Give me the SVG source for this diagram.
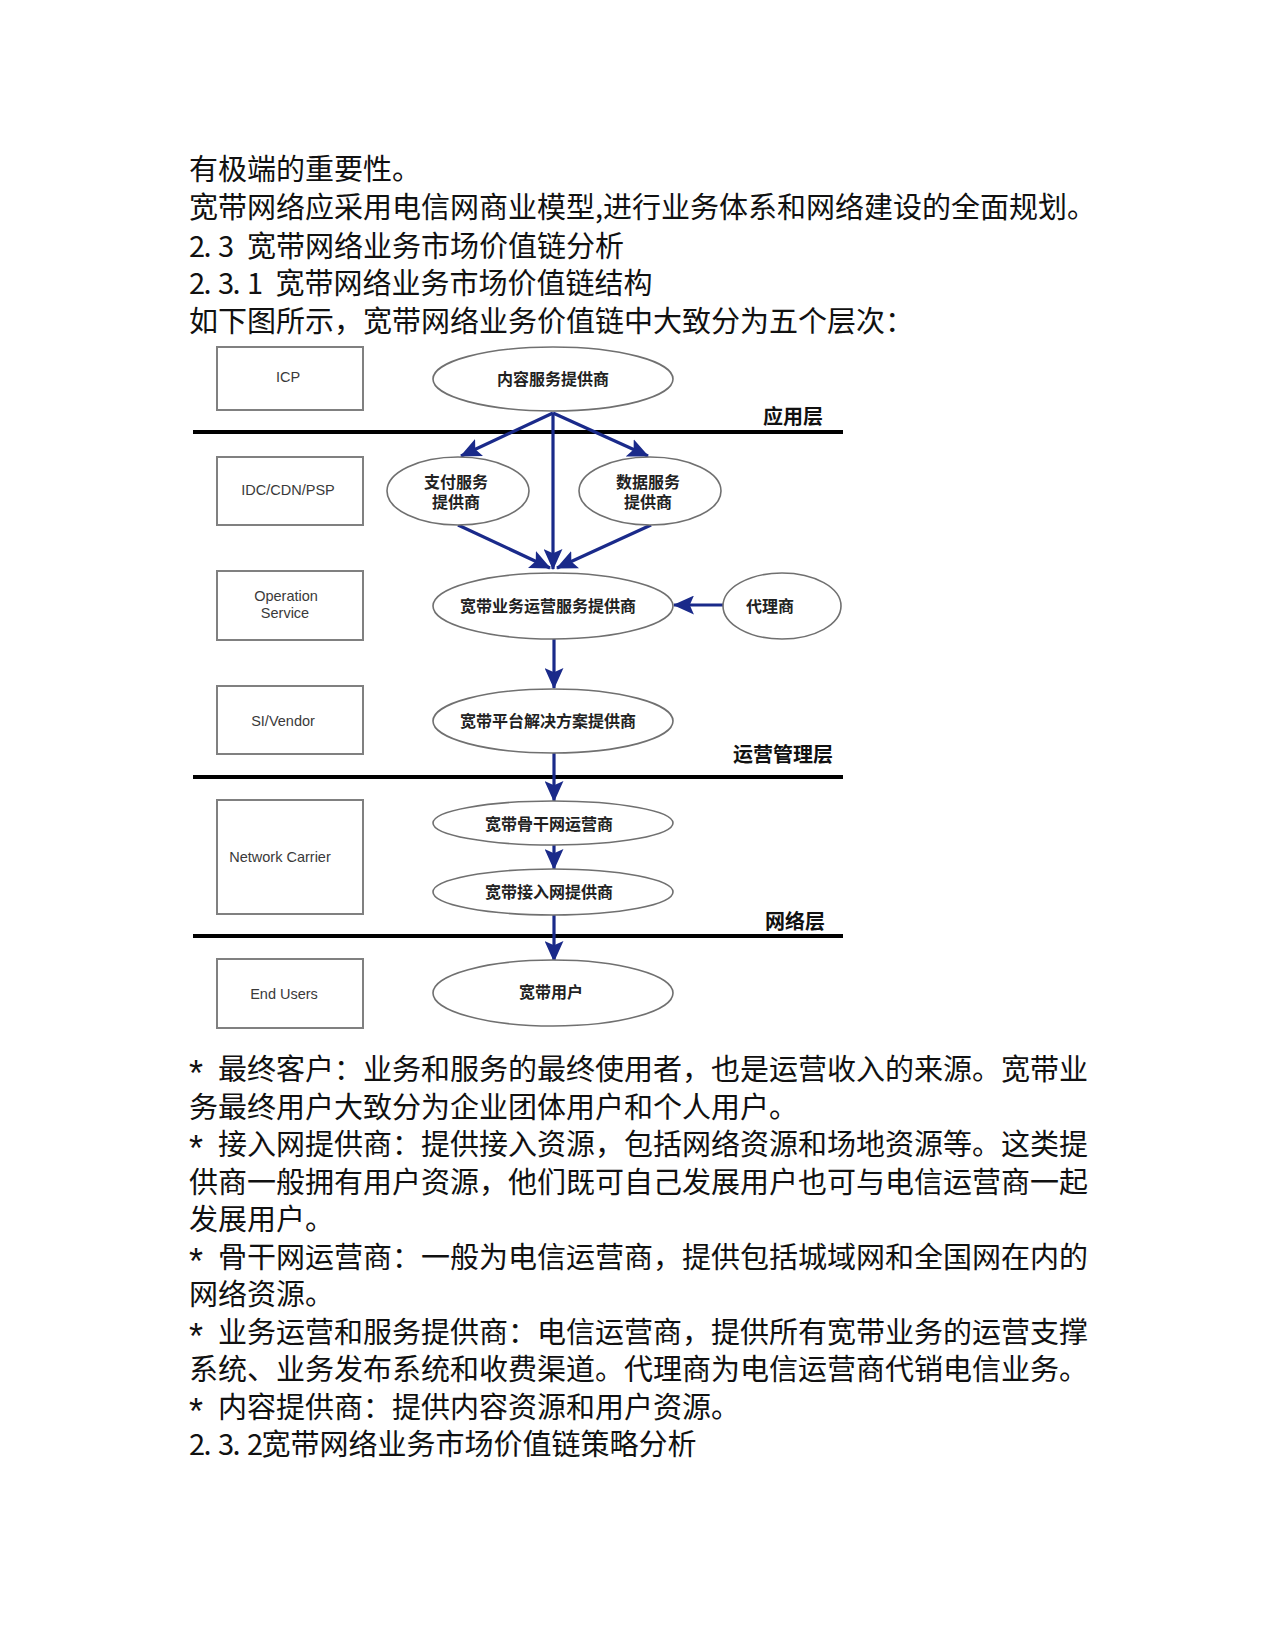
<svg xmlns="http://www.w3.org/2000/svg" width="1275" height="1650" viewBox="0 0 1275 1650">
<style>
.body{font-family:"Noto Sans CJK SC","Noto Sans",sans-serif;font-size:29px;fill:#111}
.ast{font-family:"Liberation Sans",sans-serif;font-size:36px}
.box{fill:#fff;stroke:#808080;stroke-width:2}
.ell{fill:#fff;stroke:#707070;stroke-width:1.6}
.blab{font-family:"Liberation Sans",Arial,sans-serif;font-size:14.5px;fill:#3a3a3a;text-anchor:middle}
.nlab{font-family:"Noto Sans CJK SC",sans-serif;font-weight:bold;font-size:16px;fill:#222;text-anchor:middle}
.layer{font-family:"Noto Sans CJK SC",sans-serif;font-weight:bold;font-size:20px;fill:#111}
.sep{stroke:#000;stroke-width:4}
.arr{stroke:#1a2a8a;stroke-width:3.2;fill:none;marker-end:url(#ah)}
</style>
<defs>
<marker id="ah" viewBox="0 0 20 18" refX="19" refY="9" markerWidth="21" markerHeight="19" markerUnits="userSpaceOnUse" orient="auto">
<path d="M0,0 L20,9 L0,18 L4,9 z" fill="#1a2a8a"/>
</marker>
</defs>
<rect width="1275" height="1650" fill="#fff"/>

<g id="text-top" class="body">
<text x="189" y="180">有极端的重要性。</text>
<text x="189" y="218" textLength="907">宽带网络应采用电信网商业模型,进行业务体系和网络建设的全面规划。</text>
<text y="256.5"><tspan x="189 203.5 218">2.3</tspan><tspan x="247">宽带网络业务市场价值链分析</tspan></text>
<text y="294"><tspan x="189 203.5 218 232.5 247">2.3.1</tspan><tspan x="275.5">宽带网络业务市场价值链结构</tspan></text>
<text x="189" y="331.5">如下图所示，宽带网络业务价值链中大致分为五个层次：</text>
</g>

<g id="layer-lines">
<line class="sep" x1="193" y1="432" x2="843" y2="432"/>
<line class="sep" x1="193" y1="777" x2="843" y2="777"/>
<line class="sep" x1="193" y1="936" x2="843" y2="936"/>
<text class="layer" x="763" y="424">应用层</text>
<text class="layer" x="733" y="762">运营管理层</text>
<text class="layer" x="765" y="929">网络层</text>
</g>

<g id="box-icp"><rect class="box" x="217" y="347" width="146" height="63"/><text class="blab" x="288" y="382">ICP</text></g>
<g id="box-idc"><rect class="box" x="217" y="457" width="146" height="68"/><text class="blab" x="288" y="495">IDC/CDN/PSP</text></g>
<g id="box-op"><rect class="box" x="217" y="571" width="146" height="69"/><text class="blab" x="286" y="601">Operation</text><text class="blab" x="285" y="618">Service</text></g>
<g id="box-si"><rect class="box" x="217" y="686" width="146" height="68"/><text class="blab" x="283" y="726">SI/Vendor</text></g>
<g id="box-nc"><rect class="box" x="217" y="800" width="146" height="114"/><text class="blab" x="280" y="862">Network Carrier</text></g>
<g id="box-eu"><rect class="box" x="217" y="959" width="146" height="69"/><text class="blab" x="284" y="999">End Users</text></g>

<g id="connectors">
<line class="arr" x1="553" y1="413" x2="461" y2="456"/>
<line class="arr" x1="553" y1="413" x2="648" y2="456"/>
<line class="arr" x1="553" y1="413" x2="553" y2="569"/>
<line class="arr" x1="458" y1="525" x2="550" y2="568"/>
<line class="arr" x1="651" y1="525" x2="557" y2="568"/>
<line class="arr" x1="724" y1="605" x2="674" y2="605"/>
<line class="arr" x1="554" y1="639" x2="554" y2="688"/>
<line class="arr" x1="554" y1="753" x2="554" y2="801"/>
<line class="arr" x1="554" y1="845" x2="554" y2="869"/>
<line class="arr" x1="554" y1="915" x2="554" y2="961"/>
</g>

<g id="n-content"><ellipse class="ell" cx="553" cy="379" rx="120" ry="32"/><text class="nlab" x="553" y="385" font-size="17">内容服务提供商</text></g>
<g id="n-pay"><ellipse class="ell" cx="458" cy="491" rx="71" ry="34"/><text class="nlab" x="456" y="488">支付服务</text><text class="nlab" x="456" y="508">提供商</text></g>
<g id="n-data"><ellipse class="ell" cx="650" cy="491" rx="71" ry="34"/><text class="nlab" x="648" y="488">数据服务</text><text class="nlab" x="648" y="508">提供商</text></g>
<g id="n-op"><ellipse class="ell" cx="553" cy="606" rx="120" ry="33"/><text class="nlab" x="548" y="612">宽带业务运营服务提供商</text></g>
<g id="n-agent"><ellipse class="ell" cx="782" cy="606" rx="59" ry="33"/><text class="nlab" x="770" y="612">代理商</text></g>
<g id="n-platform"><ellipse class="ell" cx="553" cy="721" rx="120" ry="32"/><text class="nlab" x="548" y="727">宽带平台解决方案提供商</text></g>
<g id="n-backbone"><ellipse class="ell" cx="553" cy="823" rx="120" ry="22"/><text class="nlab" x="549" y="830">宽带骨干网运营商</text></g>
<g id="n-access"><ellipse class="ell" cx="553" cy="892" rx="120" ry="23"/><text class="nlab" x="549" y="898">宽带接入网提供商</text></g>
<g id="n-user"><ellipse class="ell" cx="553" cy="993" rx="120" ry="33"/><text class="nlab" x="551" y="998">宽带用户</text></g>

<g id="text-bottom" class="body">
<text y="1080"><tspan class="ast" x="189" dy="6">*</tspan><tspan x="218" dy="-6">最终客户：业务和服务的最终使用者，也是运营收入的来源。宽带业</tspan></text>
<text x="189" y="1117.5">务最终用户大致分为企业团体用户和个人用户。</text>
<text y="1155"><tspan class="ast" x="189" dy="6">*</tspan><tspan x="218" dy="-6">接入网提供商：提供接入资源，包括网络资源和场地资源等。这类提</tspan></text>
<text x="189" y="1192.5">供商一般拥有用户资源，他们既可自己发展用户也可与电信运营商一起</text>
<text x="189" y="1230">发展用户。</text>
<text y="1267.5"><tspan class="ast" x="189" dy="6">*</tspan><tspan x="218" dy="-6">骨干网运营商：一般为电信运营商，提供包括城域网和全国网在内的</tspan></text>
<text x="189" y="1305">网络资源。</text>
<text y="1342.5"><tspan class="ast" x="189" dy="6">*</tspan><tspan x="218" dy="-6">业务运营和服务提供商：电信运营商，提供所有宽带业务的运营支撑</tspan></text>
<text x="189" y="1380">系统、业务发布系统和收费渠道。代理商为电信运营商代销电信业务。</text>
<text y="1417.5"><tspan class="ast" x="189" dy="6">*</tspan><tspan x="218" dy="-6">内容提供商：提供内容资源和用户资源。</tspan></text>
<text y="1455"><tspan x="189 203.5 218 232.5 247">2.3.2</tspan><tspan x="261.5">宽带网络业务市场价值链策略分析</tspan></text>
</g>
</svg>
